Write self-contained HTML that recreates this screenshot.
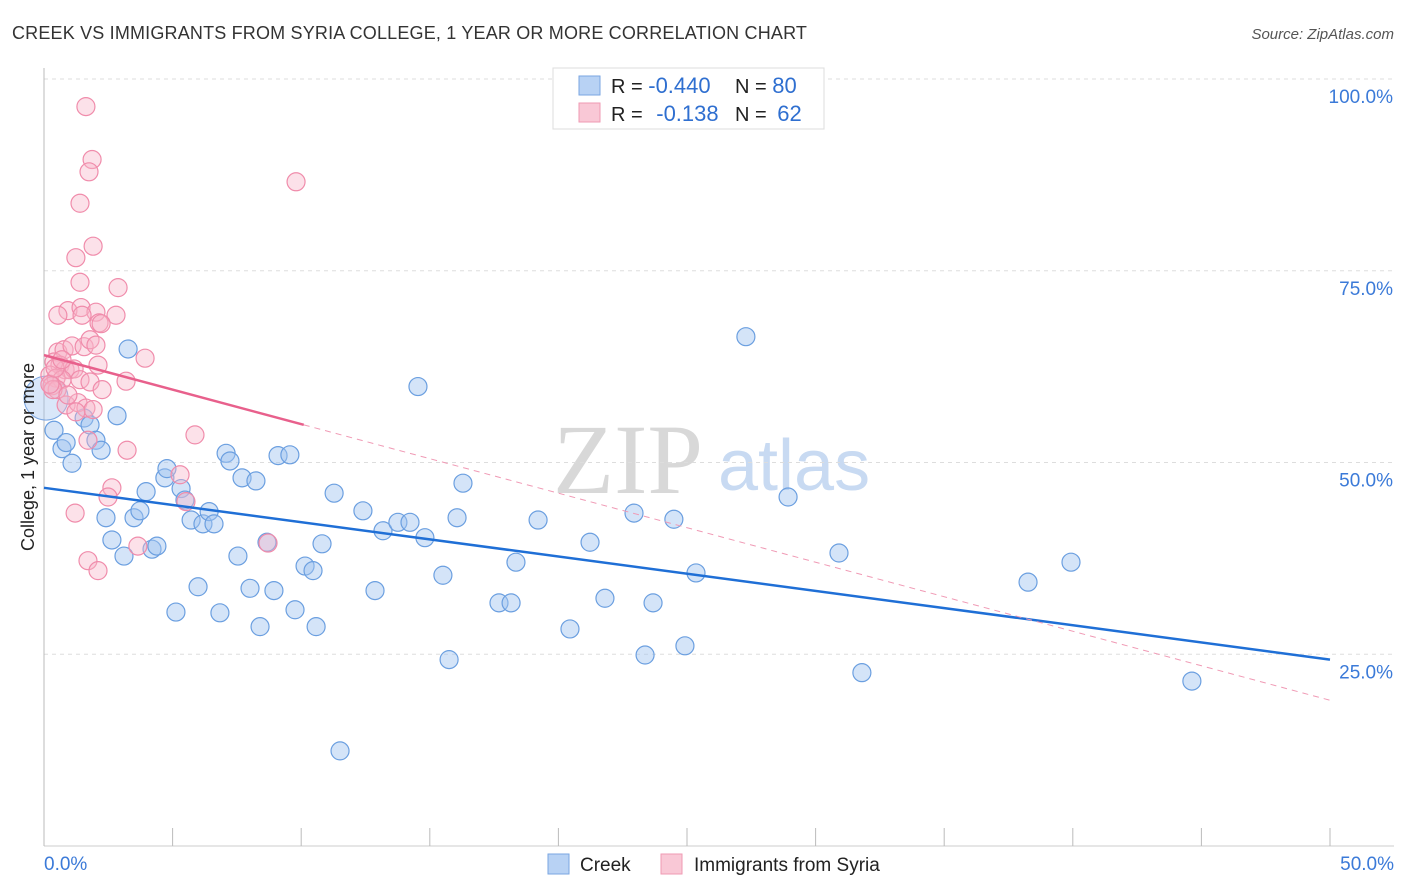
<!DOCTYPE html>
<html><head><meta charset="utf-8"><style>
body{margin:0;background:#fff;font-family:"Liberation Sans",sans-serif;}
svg{display:block}
</style></head><body>
<svg id="c" width="1406" height="892">
<text x="12" y="39" font-size="18" fill="#333" letter-spacing="0.18">CREEK VS IMMIGRANTS FROM SYRIA COLLEGE, 1 YEAR OR MORE CORRELATION CHART</text>
<text x="1394" y="39" font-size="15" fill="#555" font-style="italic" text-anchor="end">Source: ZipAtlas.com</text>
<g>
<text x="553" y="493" font-family="Liberation Serif,serif" font-size="100" fill="#d8d8d8">ZIP</text>
<text x="718" y="490" font-size="72" fill="#c8daf2">atlas</text>
</g>
<g id="grid"></g>
<g id="axes"></g>
<g id="pts"></g>
<g id="lines"></g>
<text transform="translate(34,457) rotate(-90)" font-size="18" fill="#222" text-anchor="middle">College, 1 year or more</text>
<g>
<rect x="553" y="68" width="271" height="61" fill="#fff" stroke="#ddd"/>
<rect x="579" y="76" width="21" height="19" fill="#b8d2f4" stroke="#7aa6e2"/>
<rect x="579" y="103" width="21" height="19" fill="#f9c8d6" stroke="#ef9ab3"/>
<text x="611" y="93" font-size="20" fill="#222">R = <tspan fill="#2f6fd0" font-size="22">-0.440</tspan></text>
<text x="735" y="93" font-size="20" fill="#222">N = <tspan fill="#2f6fd0" font-size="22">80</tspan></text>
<text x="611" y="121" font-size="20" fill="#222">R = <tspan fill="#2f6fd0" dx="8" font-size="22">-0.138</tspan></text>
<text x="735" y="121" font-size="20" fill="#222">N = <tspan fill="#2f6fd0" dx="5" font-size="22">62</tspan></text>
</g>
<g>
<rect x="548" y="854" width="21" height="20" fill="#b8d2f4" stroke="#7aa6e2"/>
<text x="580" y="871" font-size="19" fill="#222">Creek</text>
<rect x="661" y="854" width="21" height="20" fill="#f9c8d6" stroke="#ef9ab3"/>
<text x="694" y="871" font-size="19" fill="#222">Immigrants from Syria</text>
</g>
</svg>
<script>
const creekX=[3.27,2.84,0.39,0.70,0.86,1.09,1.56,1.79,2.02,2.22,2.41,2.64,3.11,3.50,3.73,3.97,4.20,4.39,4.70,4.78,5.13,5.33,5.48,5.72,5.99,6.18,6.42,6.61,6.84,7.08,7.23,7.54,7.70,8.01,8.24,8.40,8.67,8.94,9.10,9.56,9.76,10.15,10.46,10.58,10.81,11.28,11.51,12.40,12.87,13.18,13.76,14.23,14.81,14.54,15.51,15.75,16.06,16.29,17.69,18.16,18.35,19.21,20.45,21.23,21.81,22.94,23.37,23.68,24.49,24.92,25.35,27.29,28.93,30.91,31.80,38.26,39.93,44.63];
const creekY=[64.8,56.1,54.2,51.8,52.6,49.9,55.8,54.9,52.9,51.6,42.8,39.9,37.8,42.8,43.7,46.2,38.7,39.1,48.0,49.2,30.5,46.6,45.1,42.5,33.8,42.0,43.6,42.0,30.4,51.2,50.2,37.8,48.0,33.6,47.6,28.6,39.6,33.3,50.9,51.0,30.8,36.5,35.9,28.6,39.4,46.0,12.4,43.7,33.3,41.1,42.2,42.2,40.2,59.9,35.3,24.3,42.8,47.3,31.7,31.7,37.0,42.5,28.3,39.6,32.3,43.4,24.9,31.7,42.6,26.1,35.6,66.4,45.5,38.2,22.6,34.4,37.0,21.5];
const syriaX=[1.63,9.80,1.87,1.75,1.40,1.91,1.24,1.40,2.88,0.93,0.54,1.44,2.02,1.48,2.14,2.80,2.22,0.54,0.78,1.09,1.56,1.79,2.02,0.39,0.62,0.82,1.01,0.23,0.47,1.17,0.70,0.31,0.51,1.40,1.79,2.10,3.93,3.19,2.26,0.86,1.32,1.63,1.91,1.24,5.87,3.23,1.71,5.29,5.52,2.64,2.49,1.21,3.65,8.71,1.71,2.10,0.35,0.23,0.43,0.70,0.93];
const syriaY=[96.4,86.6,89.5,87.9,83.8,78.2,76.7,73.5,72.8,69.8,69.2,70.2,69.6,69.2,68.2,69.2,68.1,64.4,64.7,65.2,65.1,66.0,65.3,63.1,62.7,62.1,62.1,61.4,61.0,62.2,60.8,60.0,59.5,60.8,60.5,62.7,63.6,60.6,59.5,57.5,57.8,57.1,56.9,56.6,53.6,51.6,52.9,48.4,44.9,46.7,45.5,43.4,39.1,39.5,37.2,35.9,59.5,60.2,62.3,63.4,58.8];
const creekTrend=[46.7,24.3];
const syriaTrend=[64.0,19.0];
const syriaSolidEnd=10.1;
const yTicks=[25,50,75,100];
const xTickLabels=["0.0%","50.0%"];
const X=v=>44+v/50*1286, Y=v=>846-v/100*767;
const NS="http://www.w3.org/2000/svg";
function mk(tag,parent,attrs){const e=document.createElementNS(NS,tag);for(const k in attrs)e.setAttribute(k,attrs[k]);parent.appendChild(e);return e;}
const grid=document.getElementById('grid'),axes=document.getElementById('axes'),pts=document.getElementById('pts'),lines=document.getElementById('lines');
yTicks.forEach(t=>{
 const l=mk('line',grid,{x1:44,x2:1394,y1:Y(t),y2:Y(t),stroke:'#ddd','stroke-dasharray':'4,4'});
 
 
 const tx=mk('text',axes,{x:1393,y:Y(t)+24,'font-size':19,fill:'#3b7ad8','text-anchor':'end'});tx.textContent=t.toFixed(1)+'%';
 
 
});
const ax=mk('line',axes,{x1:44,x2:44,y1:68,y2:846,stroke:'#bbb'});


const bx=mk('line',axes,{x1:44,x2:1394,y1:846,y2:846,stroke:'#ccc'});


for(let i=0;i<=10;i++){const tk=mk('line',axes,{x1:X(i*5),x2:X(i*5),y1:828,y2:846,stroke:'#bbb'});
 
 }
const xl0=mk('text',axes,{x:44,y:870,'font-size':19,fill:'#3b7ad8'});xl0.textContent=xTickLabels[0];


const xl1=mk('text',axes,{x:1394,y:870,'font-size':19,fill:'#3b7ad8','text-anchor':'end'});xl1.textContent=xTickLabels[1];


const big=mk('circle',pts,{cx:X(0.08),cy:Y(58.4),r:22,fill:'rgba(160,195,240,0.4)',stroke:'#7aa6e2'});


creekX.forEach((v,i)=>{const c=mk('circle',pts,{cx:X(v),cy:Y(creekY[i]),r:9,fill:'rgba(160,195,240,0.45)',stroke:'#6b9fe0','stroke-width':1.2});
 
 });
syriaX.forEach((v,i)=>{const c=mk('circle',pts,{cx:X(v),cy:Y(syriaY[i]),r:9,fill:'rgba(248,180,200,0.4)',stroke:'#f08cab','stroke-width':1.2});
 
 });
const bl=mk('line',lines,{x1:X(0),y1:Y(creekTrend[0]),x2:X(50),y2:Y(creekTrend[1]),stroke:'#1f6fd6','stroke-width':2.5});


const ps=syriaTrend[0]+(syriaTrend[1]-syriaTrend[0])*syriaSolidEnd/50;
const pl=mk('line',lines,{x1:X(0),y1:Y(syriaTrend[0]),x2:X(syriaSolidEnd),y2:Y(ps),stroke:'#e8608c','stroke-width':2.5});


const pd=mk('line',lines,{x1:X(syriaSolidEnd),y1:Y(ps),x2:X(50),y2:Y(syriaTrend[1]),stroke:'#f09ab5','stroke-width':1,'stroke-dasharray':'6,5'});


</script>
</body></html>
